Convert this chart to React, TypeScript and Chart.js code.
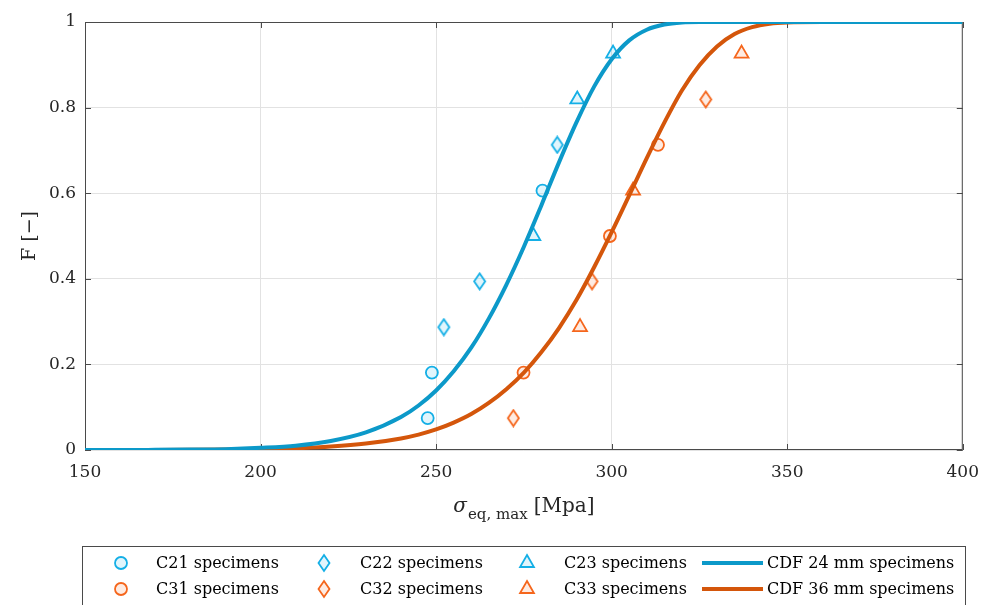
import React, { useEffect, useRef } from 'react';
import { Chart, registerables } from 'chart.js';

Chart.register(...registerables);

// ---------- data ----------
const xTickValues = [150, 200, 250, 300, 350, 400];
const yTickValues = [0, 0.2, 0.4, 0.6, 0.8, 1];

const c21Stress = [247.6, 248.8, 280.3];
const c21F = [0.0745, 0.181, 0.606];
const c22Stress = [252.2, 262.4, 284.5];
const c22F = [0.287, 0.394, 0.713];
const c23Stress = [277.7, 290.2, 300.4];
const c23F = [0.5, 0.819, 0.926];

const c31Stress = [274.9, 299.5, 313.2];
const c31F = [0.181, 0.5, 0.713];
const c32Stress = [272.0, 294.4, 326.8];
const c32F = [0.0745, 0.394, 0.819];
const c33Stress = [291.0, 306.1, 337.0];
const c33F = [0.287, 0.606, 0.926];

const cdfStress = [150, 160, 170, 180, 190, 200, 210, 220, 230, 240, 245, 250, 255, 260, 265, 270, 275, 280, 285, 290, 295, 300, 305, 310, 315, 320, 325, 330, 335, 340, 345, 350, 360, 370, 380, 390, 400];
const cdf24F = [0, 0, 0.0004, 0.001, 0.002, 0.005, 0.010, 0.021, 0.041, 0.077, 0.104, 0.139, 0.184, 0.239, 0.307, 0.386, 0.475, 0.572, 0.672, 0.766, 0.849, 0.913, 0.957, 0.982, 0.994, 0.999, 1, 1, 1, 1, 1, 1, 1, 1, 1, 1, 1];
const cdf36F = [0, 0, 0.0001, 0.0004, 0.001, 0.002, 0.004, 0.008, 0.015, 0.027, 0.036, 0.048, 0.064, 0.084, 0.110, 0.142, 0.181, 0.229, 0.285, 0.351, 0.427, 0.509, 0.595, 0.682, 0.765, 0.840, 0.899, 0.943, 0.972, 0.988, 0.996, 0.999, 1, 1, 1, 1, 1];

const seriesLabels = ['C21 specimens', 'C22 specimens', 'C23 specimens', 'CDF 24 mm specimens', 'C31 specimens', 'C32 specimens', 'C33 specimens', 'CDF 36 mm specimens'];

const xTitleSymbol = 'σ';
const xTitleSub = 'eq, max';
const xTitleUnit = '[Mpa]';
const yTitle = 'F [−]';

// ---------- styles ----------
const SERIF = '"DejaVu Serif", serif';
const TEXT = '#262626';
const BLUE_LINE = '#0c99c9';
const ORANGE_LINE = '#d4560b';
const BLUE_MK = '#14afe6';
const ORANGE_MK = '#f5661c';
const BLUE_FILL = 'rgba(20,175,230,0.13)';
const ORANGE_FILL = 'rgba(245,102,28,0.13)';

const zip = (xs: number[], ys: number[]) => xs.map((x, i) => ({ x, y: ys[i] }));

function makeDiamond(stroke: string, fill: string): HTMLCanvasElement {
  const c = document.createElement('canvas');
  c.width = 15;
  c.height = 19;
  const g = c.getContext('2d')!;
  g.beginPath();
  g.moveTo(7.5, 1.5);
  g.lineTo(13, 9.5);
  g.lineTo(7.5, 17.5);
  g.lineTo(2, 9.5);
  g.closePath();
  g.fillStyle = fill;
  g.fill();
  g.lineWidth = 1.8;
  g.strokeStyle = stroke;
  g.stroke();
  return c;
}

function drawMarker(ctx: CanvasRenderingContext2D, kind: string, x: number, y: number, stroke: string, fill: string) {
  ctx.save();
  ctx.lineWidth = 1.8;
  ctx.strokeStyle = stroke;
  ctx.fillStyle = fill;
  ctx.beginPath();
  if (kind === 'circle') {
    ctx.arc(x, y, 6, 0, Math.PI * 2);
  } else if (kind === 'diamond') {
    ctx.moveTo(x, y - 8);
    ctx.lineTo(x + 5.5, y);
    ctx.lineTo(x, y + 8);
    ctx.lineTo(x - 5.5, y);
    ctx.closePath();
  } else {
    const r = 8;
    ctx.moveTo(x, y - r);
    ctx.lineTo(x + r * Math.sin((2 * Math.PI) / 3), y - r * Math.cos((2 * Math.PI) / 3));
    ctx.lineTo(x - r * Math.sin((2 * Math.PI) / 3), y - r * Math.cos((2 * Math.PI) / 3));
    ctx.closePath();
  }
  ctx.fill();
  ctx.stroke();
  ctx.restore();
}

export default function App() {
  const ref = useRef<HTMLCanvasElement>(null);

  useEffect(() => {
    const canvas = ref.current!;
    const blueDiamond = makeDiamond(BLUE_MK, BLUE_FILL);
    const orangeDiamond = makeDiamond(ORANGE_MK, ORANGE_FILL);

    const scatterDs = (label: string, xs: number[], ys: number[], style: any, color: string, fill: string) => ({
      label,
      data: zip(xs, ys),
      pointStyle: style,
      pointRadius: style === 'triangle' ? 8 : 6,
      pointBorderWidth: 1.8,
      pointBorderColor: color,
      pointBackgroundColor: fill,
      borderColor: color,
      backgroundColor: fill,
      showLine: false,
      order: 2,
    });

    const lineDs = (label: string, ys: number[], color: string) => ({
      label,
      data: zip(cdfStress, ys),
      showLine: true,
      borderColor: color,
      backgroundColor: color,
      borderWidth: 4,
      pointRadius: 0,
      cubicInterpolationMode: 'monotone',
      order: 1,
    });

    const frame = {
      id: 'frame',
      beforeDatasetsDraw(chart: any) {
        const { ctx, chartArea: a, scales } = chart;
        ctx.save();
        ctx.strokeStyle = '#4a4a4a';
        ctx.lineWidth = 1;
        ctx.strokeRect(a.left + 0.5, a.top + 0.5, a.right - a.left - 1, a.bottom - a.top - 1);
        const tl = 6;
        ctx.beginPath();
        xTickValues.forEach((v) => {
          const px = Math.round(scales.x.getPixelForValue(v)) + 0.5;
          ctx.moveTo(px, a.bottom);
          ctx.lineTo(px, a.bottom - tl);
          ctx.moveTo(px, a.top);
          ctx.lineTo(px, a.top + tl);
        });
        yTickValues.forEach((v) => {
          const py = Math.round(scales.y.getPixelForValue(v)) + 0.5;
          ctx.moveTo(a.left, py);
          ctx.lineTo(a.left + tl, py);
          ctx.moveTo(a.right, py);
          ctx.lineTo(a.right - tl, py);
        });
        ctx.stroke();
        ctx.restore();
      },
      afterDraw(chart: any) {
        const { ctx, chartArea: a } = chart;
        ctx.save();
        ctx.fillStyle = TEXT;
        // x title
        const big = `20px ${SERIF}`;
        const italicBig = `italic 20px ${SERIF}`;
        const small = `15px ${SERIF}`;
        ctx.font = italicBig;
        const w1 = ctx.measureText(xTitleSymbol).width;
        ctx.font = small;
        const w2 = ctx.measureText(xTitleSub).width;
        ctx.font = big;
        const w3 = ctx.measureText(xTitleUnit).width;
        const gap1 = 1, gap2 = 6;
        const total = w1 + gap1 + w2 + gap2 + w3;
        let x0 = (a.left + a.right) / 2 - total / 2;
        const base = 512;
        ctx.textBaseline = 'alphabetic';
        ctx.textAlign = 'left';
        ctx.font = italicBig;
        ctx.fillText(xTitleSymbol, x0, base);
        x0 += w1 + gap1;
        ctx.font = small;
        ctx.fillText(xTitleSub, x0, base + 7);
        x0 += w2 + gap2;
        ctx.font = big;
        ctx.fillText(xTitleUnit, x0, base);
        // y title
        ctx.save();
        ctx.translate(30, (a.top + a.bottom) / 2);
        ctx.rotate(-Math.PI / 2);
        ctx.textAlign = 'center';
        ctx.textBaseline = 'middle';
        ctx.font = `19px ${SERIF}`;
        ctx.fillText(yTitle, 0, 0);
        ctx.restore();

        // legend box
        ctx.strokeStyle = '#4a4a4a';
        ctx.lineWidth = 1;
        ctx.strokeRect(82.5, 546.5, 883, 70);
        const rows = [563, 589];
        const markerX = [121, 324, 527];
        const textX = [156, 360, 564];
        const kinds = ['circle', 'diamond', 'triangle'];
        ctx.font = `16px ${SERIF}`;
        ctx.textBaseline = 'middle';
        ctx.textAlign = 'left';
        for (let r = 0; r < 2; r++) {
          const stroke = r === 0 ? BLUE_MK : ORANGE_MK;
          const fill = r === 0 ? BLUE_FILL : ORANGE_FILL;
          for (let c = 0; c < 3; c++) {
            drawMarker(ctx, kinds[c], markerX[c], rows[r], stroke, fill);
            ctx.fillStyle = '#000';
            ctx.fillText(seriesLabels[r * 4 + c], textX[c], rows[r] + 1);
          }
          ctx.beginPath();
          ctx.strokeStyle = r === 0 ? BLUE_LINE : ORANGE_LINE;
          ctx.lineWidth = 4;
          ctx.moveTo(702, rows[r]);
          ctx.lineTo(763, rows[r]);
          ctx.stroke();
          ctx.fillStyle = '#000';
          ctx.fillText(seriesLabels[r * 4 + 3], 767, rows[r] + 1);
        }
        ctx.restore();
      },
    };

    const chart = new Chart(canvas, {
      type: 'scatter',
      data: {
        datasets: [
          lineDs(seriesLabels[3], cdf24F, BLUE_LINE),
          lineDs(seriesLabels[7], cdf36F, ORANGE_LINE),
          scatterDs(seriesLabels[0], c21Stress, c21F, 'circle', BLUE_MK, BLUE_FILL),
          scatterDs(seriesLabels[1], c22Stress, c22F, blueDiamond, BLUE_MK, BLUE_FILL),
          scatterDs(seriesLabels[2], c23Stress, c23F, 'triangle', BLUE_MK, BLUE_FILL),
          scatterDs(seriesLabels[4], c31Stress, c31F, 'circle', ORANGE_MK, ORANGE_FILL),
          scatterDs(seriesLabels[5], c32Stress, c32F, orangeDiamond, ORANGE_MK, ORANGE_FILL),
          scatterDs(seriesLabels[6], c33Stress, c33F, 'triangle', ORANGE_MK, ORANGE_FILL),
        ] as any,
      },
      options: {
        responsive: false,
        animation: false,
        devicePixelRatio: 1,
        layout: { padding: { top: 22, right: 25, left: 0, bottom: 0 } },
        plugins: { legend: { display: false }, tooltip: { enabled: false } },
        scales: {
          x: {
            type: 'linear',
            min: 150,
            max: 400,
            afterBuildTicks: (s: any) => {
              s.ticks = xTickValues.map((v) => ({ value: v }));
            },
            afterFit: (s: any) => {
              s.height = 155;
            },
            grid: { color: '#e2e2e2', drawTicks: false, lineWidth: 1 },
            border: { display: false },
            ticks: { color: TEXT, padding: 12, font: { family: SERIF, size: 17 }, maxRotation: 0, callback: (v: any) => String(+v) },
          },
          y: {
            type: 'linear',
            min: 0,
            max: 1,
            afterBuildTicks: (s: any) => {
              s.ticks = yTickValues.map((v) => ({ value: v }));
            },
            afterFit: (s: any) => {
              s.width = 85;
            },
            grid: { color: '#e2e2e2', drawTicks: false, lineWidth: 1 },
            border: { display: false },
            ticks: { color: TEXT, padding: 9, font: { family: SERIF, size: 17 }, callback: (v: any) => String(+(+v).toFixed(2)) },
          },
        },
      } as any,
      plugins: [frame as any],
    });
    return () => chart.destroy();
  }, []);

  return (
    <div style={{ position: 'absolute', left: 0, top: 0, width: 991, height: 605, background: '#fff' }}>
      <canvas ref={ref} width={991} height={605} style={{ display: 'block' }} />
    </div>
  );
}
